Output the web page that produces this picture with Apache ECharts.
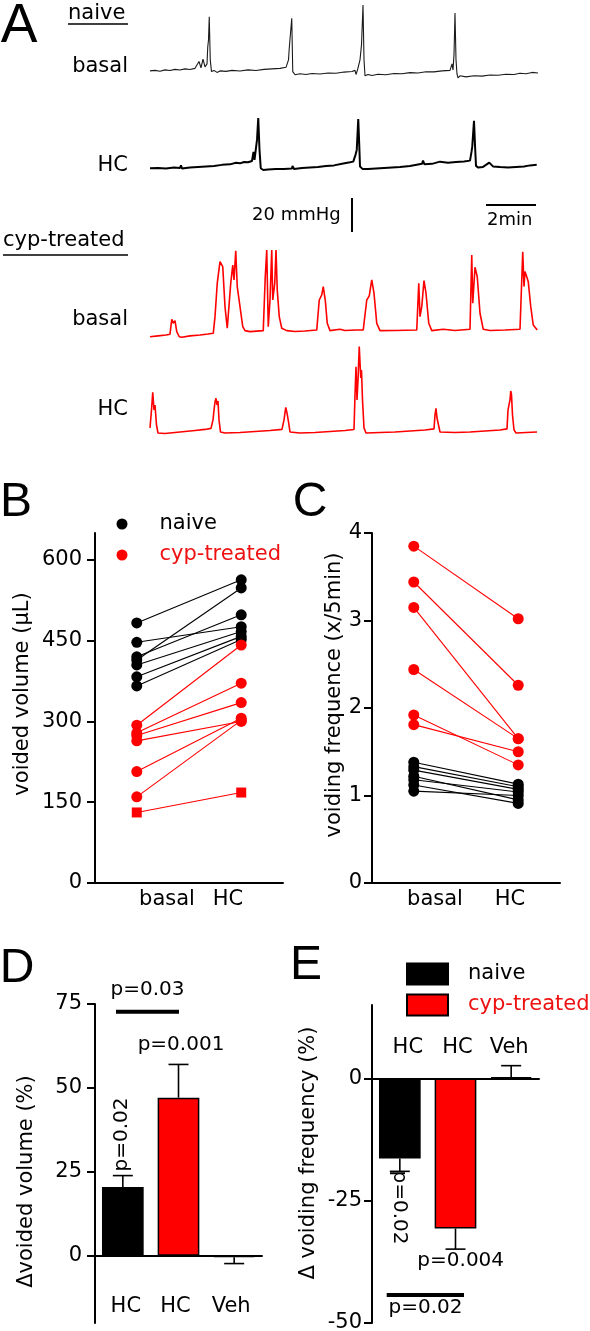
<!DOCTYPE html>
<html><head><meta charset="utf-8">
<script src="https://cdn.jsdelivr.net/npm/echarts@6/dist/echarts.min.js"></script>
<style>html,body{margin:0;padding:0;background:#fff;overflow:hidden}#c{width:590px;height:1331px}</style>
</head><body><div id="c"></div>
<script>
// ---------- Panel A: pressure traces, [time (min), pressure (mmHg)] ----------
const traceNaiveBasal = [[0,5.3],[0.2,5.6],[0.4,5.1],[0.6,5.9],[0.8,5.5],[1.0,6.2],[1.2,5.8],[1.4,6.5],[1.6,6.1],[1.8,6.8],[1.96,10.8],[2.04,7.1],[2.12,12.2],[2.2,7.6],[2.28,9.4],[2.31,19.4],[2.34,23.5],[2.37,37.2],[2.41,11.8],[2.46,4.9],[2.56,5.6],[2.68,4.4],[2.8,5.3],[3.04,5.0],[3.28,5.6],[3.6,5.2],[3.92,5.9],[4.24,5.5],[4.56,6.2],[4.88,6.5],[5.2,6.8],[5.44,7.4],[5.54,11.8],[5.57,18.6],[5.67,36.3],[5.71,4.9],[5.8,3.0],[6.0,3.6],[6.24,3.2],[6.48,3.8],[6.8,3.5],[7.12,4.1],[7.44,3.9],[7.76,4.6],[8.08,4.9],[8.2,5.6],[8.24,3.2],[8.3,5.9],[8.4,11.8],[8.46,20.6],[8.52,44.1],[8.56,11.8],[8.6,2.4],[8.72,3.2],[8.88,2.6],[9.12,3.3],[9.44,3.0],[9.76,3.8],[10.08,3.6],[10.4,4.3],[10.72,4.1],[11.04,4.8],[11.36,4.7],[11.68,5.3],[12.0,5.6],[12.08,9.4],[12.12,5.9],[12.16,14.7],[12.2,39.4],[12.24,11.8],[12.28,3.5],[12.32,1.2],[12.4,2.4],[12.64,1.8],[12.96,2.4],[13.28,2.2],[13.6,2.9],[13.92,2.7],[14.24,3.3],[14.56,3.2],[14.8,3.9],[15.04,3.6],[15.28,4.4],[15.52,4.1]];
const traceNaiveHC = [[0,3.9],[0.32,4.1],[0.64,3.8],[0.96,4.4],[1.2,4.1],[1.24,5.6],[1.28,3.8],[1.6,4.4],[1.92,4.7],[2.24,5.0],[2.56,5.3],[2.88,5.9],[3.2,6.2],[3.44,7.1],[3.6,6.8],[3.76,7.6],[3.92,7.4],[4.08,8.2],[4.14,13.5],[4.18,8.8],[4.24,15.9],[4.28,20.6],[4.33,33.4],[4.38,14.7],[4.43,3.9],[4.53,2.9],[4.72,3.2],[5.04,3.5],[5.36,3.5],[5.68,3.8],[5.7,5.3],[5.76,3.5],[6.08,4.1],[6.4,4.4],[6.72,4.7],[7.04,5.3],[7.36,5.6],[7.68,6.5],[8.0,7.4],[8.13,7.8],[8.22,11.8],[8.27,14.7],[8.33,32.8],[8.37,17.6],[8.4,4.9],[8.51,3.4],[8.72,3.5],[9.04,3.8],[9.36,4.1],[9.68,4.4],[10.0,4.7],[10.4,5.3],[10.88,6.5],[10.92,8.4],[10.98,6.2],[11.28,6.5],[11.6,7.8],[11.66,6.8],[11.92,7.1],[12.24,7.6],[12.56,7.9],[12.8,8.4],[12.86,13.5],[12.89,16.6],[12.96,31.8],[13.0,17.6],[13.04,5.3],[13.13,4.3],[13.32,4.7],[13.57,7.2],[13.72,5.0],[14.0,4.7],[14.32,4.4],[14.64,4.7],[14.96,5.0],[15.2,5.6],[15.47,5.9]];
const traceCypBasal = [[0,1.9],[0.32,2.4],[0.64,2.9],[0.8,3.4],[0.87,12.2],[0.93,9.8],[1.0,11.4],[1.07,4.9],[1.17,1.9],[1.27,1.6],[1.6,2.4],[2.0,2.9],[2.32,3.5],[2.53,3.9],[2.6,13.7],[2.69,33.4],[2.8,46.1],[2.91,43.1],[3.0,19.6],[3.09,6.9],[3.17,5.9],[3.23,33.4],[3.31,44.1],[3.36,35.3],[3.43,52.5],[3.49,31.4],[3.6,19.6],[3.71,7.8],[3.8,5.5],[4.0,4.9],[4.53,5.5],[4.61,37.2],[4.67,52.9],[4.73,7.8],[4.8,23.5],[4.87,52.9],[4.91,23.5],[4.99,33.4],[5.04,52.9],[5.09,29.4],[5.17,13.7],[5.27,6.9],[5.47,5.5],[5.8,5.0],[6.2,5.3],[6.67,5.9],[6.77,23.5],[6.87,26.5],[6.93,31.4],[7.01,23.5],[7.09,9.8],[7.2,5.5],[7.6,6.3],[7.8,5.6],[8.24,5.9],[8.53,5.9],[8.67,23.5],[8.77,25.9],[8.87,35.3],[8.96,27.5],[9.07,9.8],[9.2,5.5],[9.8,5.6],[10.67,5.9],[10.75,33.4],[10.8,13.7],[10.87,19.6],[10.96,34.9],[11.04,27.5],[11.15,9.8],[11.27,5.5],[11.73,6.3],[12.2,5.6],[12.8,6.3],[12.87,50.0],[12.91,21.6],[13.0,42.8],[13.09,37.2],[13.2,15.7],[13.33,6.3],[13.6,5.6],[14.2,5.9],[14.8,6.3],[14.91,51.9],[14.96,31.4],[15.0,40.2],[15.07,37.2],[15.13,34.3],[15.23,19.6],[15.33,8.8],[15.49,5.9]];
const traceCypHC = [[0,7.1],[0.06,17.6],[0.11,28.1],[0.16,17.6],[0.2,20.6],[0.26,8.8],[0.32,4.1],[0.6,3.8],[1.0,4.4],[1.4,5.0],[1.8,5.6],[2.2,6.2],[2.44,6.8],[2.52,11.8],[2.56,17.6],[2.6,22.4],[2.64,24.5],[2.68,20.6],[2.72,22.9],[2.76,11.8],[2.82,4.7],[3.0,4.1],[3.6,4.4],[4.2,5.0],[4.8,5.6],[5.28,6.2],[5.36,11.8],[5.43,19.2],[5.48,15.9],[5.54,10.6],[5.6,4.7],[6.0,4.1],[6.6,4.4],[7.2,5.0],[7.8,5.6],[8.16,6.2],[8.2,26.5],[8.24,43.1],[8.28,23.5],[8.32,35.3],[8.37,54.9],[8.43,36.5],[8.46,41.2],[8.5,23.5],[8.56,7.1],[8.64,4.1],[9.2,4.4],[9.8,4.7],[10.4,5.3],[11.0,5.9],[11.36,6.5],[11.4,14.7],[11.44,18.6],[11.48,12.9],[11.52,11.8],[11.6,4.7],[12.2,4.4],[12.8,4.7],[13.4,5.3],[14.0,5.9],[14.28,6.5],[14.32,17.6],[14.36,20.6],[14.4,23.5],[14.43,28.8],[14.46,26.5],[14.5,14.7],[14.56,5.9],[14.64,4.1],[15.04,4.4],[15.48,4.7]];
// scale bars (same units as traces)
const scaleBarPressure = [[8.08, 5.3], [8.08, 25.3]];   // 20 mmHg
const scaleBarTime = [[13.44, 21.2], [15.44, 21.2]];    // 2 min

// ---------- Panel B: voided volume (µL) ----------
const B_categories = ['basal', 'HC'];
const B_ticks = [0, 150, 300, 450, 600];
const B_naive_basal = [483, 447, 420, 414, 405, 383, 366];
const B_naive_hc    = [563, 476, 498, 548, 467, 458, 452];
const B_cyp_basal   = [293, 279, 274, 264, 207, 160];
const B_cyp_hc      = [442, 371, 335, 300, 306, 302];
const B_cypSq_basal = [131];
const B_cypSq_hc    = [168];

// ---------- Panel C: voiding frequency (x/5min) ----------
const C_categories = ['basal', 'HC'];
const C_ticks = [0, 1, 2, 3, 4];
const C_naive_basal = [1.38, 1.33, 1.29, 1.22, 1.18, 1.12, 1.05];
const C_naive_hc    = [1.13, 1.10, 1.07, 0.95, 1.04, 0.91, 1.00];
const C_cyp_basal   = [3.85, 3.44, 3.15, 2.44, 1.92, 1.81];
const C_cyp_hc      = [3.02, 2.26, 1.65, 1.65, 1.35, 1.50];

// ---------- Panel D: Δ voided volume (%) ----------
const D_categories = ['HC', 'HC', 'Veh'];
const D_ticks = [0, 25, 50, 75];
const D_naive = [20.5, '-', '-'];
const D_cyp = ['-', 47.1, -0.4];
const D_err = [3.4, 9.9, 1.9];

// ---------- Panel E: Δ voiding frequency (%) ----------
const E_categories = ['HC', 'HC', 'Veh'];
const E_ticks = [-50, -25, 0];
const E_naive = [-16.4, '-', '-'];
const E_cyp = ['-', -30.7, 0.3];
const E_err = [2.6, 4.2, 2.3];

// ---------------------------------------------------------------
const FONT = 'DejaVu Sans';
const RED = '#ff0000';
const RED_TXT = '#ee1111';
const BLACK = '#000';
const txt = (o) => Object.assign({fontFamily: FONT, color: BLACK, fontSize: 21}, o);

const chart = echarts.init(document.getElementById('c'));

const G = (left, top, width, height) => ({left, top, width, height, containLabel:false, outerBoundsMode:'none'});
const grids = [
  G(150, 0, 390, 85),     // 0 naive basal
  G(150, 95, 390, 85),    // 1 naive HC
  G(150, 190, 390, 51),   // 2 scale bars
  G(150, 240, 390, 102),  // 3 cyp basal
  G(150, 340, 390, 102),  // 4 cyp HC
  G(95, 533, 188, 350),   // 5 B
  G(372, 533, 188, 350),  // 6 C
  G(95, 1004, 167, 319),  // 7 D
  G(372, 1005, 167, 318)  // 8 E
];
const traceY = [[-3,47],[-3,47],[0,30],[-1.2,58.8],[-1.2,58.8]];

const axLine = {show:true, onZero:false, lineStyle:{color:BLACK, width:2}};
const hidden = {show:false};

const xAxes = [];
const yAxes = [];
for (let i = 0; i < 5; i++) {
  xAxes.push({gridIndex:i, type:'value', min:0, max:15.6, show:false});
  yAxes.push({gridIndex:i, type:'value', min:traceY[i][0], max:traceY[i][1], show:false});
}
function shiftRich(shifts){
  const rich = {};
  shifts.forEach((s, i) => {
    rich['s'+i] = {fontFamily:FONT, fontSize:21, color:BLACK,
      padding: s >= 0 ? [0,0,0,2*s] : [0,-2*s,0,0]};
  });
  return rich;
}
const catLabel = (margin, shifts, inside) => txt({margin, inside:!!inside, interval:0, hideOverlap:false,
  formatter:(v,i)=>'{s'+i+'|'+v+'}', rich:shiftRich(shifts)});
// B x axes: value axis for point placement, category axis for labels
xAxes.push({gridIndex:5, type:'value', min:-0.4, max:1.4, axisLine:{show:true, onZero:false, lineStyle:{color:BLACK,width:2}}, axisTick:hidden, axisLabel:hidden, splitLine:hidden}); // 5
xAxes.push({gridIndex:5, type:'category', data:B_categories, position:'bottom', axisLine:hidden, axisTick:hidden, splitLine:hidden,
  axisLabel:catLabel(6, [25,-8])}); // 6
xAxes.push({gridIndex:6, type:'value', min:-0.4, max:1.4, axisLine:{show:true, onZero:false, lineStyle:{color:BLACK,width:2}}, axisTick:hidden, axisLabel:hidden, splitLine:hidden}); // 7
xAxes.push({gridIndex:6, type:'category', data:C_categories, position:'bottom', axisLine:hidden, axisTick:hidden, splitLine:hidden,
  axisLabel:catLabel(6, [16,-3])}); // 8
// D / E: axis line sits on zero, labels stay at the grid edge (placed inside)
xAxes.push({gridIndex:7, type:'category', data:D_categories, position:'bottom', axisLine:{show:true, onZero:true, lineStyle:{color:BLACK,width:2}}, axisTick:hidden, splitLine:hidden,
  axisLabel:catLabel(6, [3,-3,-3], true)}); // 9
xAxes.push({gridIndex:8, type:'category', data:E_categories, position:'top', axisLine:{show:true, onZero:true, lineStyle:{color:BLACK,width:2}}, axisTick:hidden, splitLine:hidden,
  axisLabel:catLabel(32, [8,2,-2], true)}); // 10

function yAx(grid, min, max, ticks, margin, name, nameGap, pad){
  return {gridIndex:grid, type:'value', min, max, axisLine:axLine,
    axisTick:{show:true, length:8, lineStyle:{color:BLACK,width:2}, customValues:ticks},
    axisLabel:txt({margin, customValues:ticks}), splitLine:hidden,
    name, nameLocation:'middle', nameGap, nameTextStyle:txt({padding:pad})};
}
yAxes.push(yAx(5, 0, 650, B_ticks, 13, 'voided volume (μL)', 62, [0,0,0,28]));        // 5
yAxes.push(yAx(6, 0, 4, C_ticks, 10, 'voiding frequence (x/5min)', 25, [0,0,0,26]));   // 6
yAxes.push(yAx(7, -20, 75, D_ticks, 13, 'Δvoided volume (%)', 58, [0,36,0,0]));       // 7
yAxes.push(yAx(8, -50, 15, E_ticks, 10, 'Δ voiding frequency (%)', 53, [0,0,0,22]));  // 8

const series = [];
const traceDefs = [
  [traceNaiveBasal, '#1a1a1a', 1.1],
  [traceNaiveHC, BLACK, 2],
  null,
  [traceCypBasal, RED, 1.6],
  [traceCypHC, RED, 1.6]
];
traceDefs.forEach((d, i) => {
  if (!d) return;
  series.push({type:'line', name:'trace'+i, xAxisIndex:i, yAxisIndex:i, data:d[0], showSymbol:false,
    lineStyle:{color:d[1], width:d[2]}, silent:true});
});
series.push({type:'line', name:'scale-p', xAxisIndex:2, yAxisIndex:2, data:scaleBarPressure, showSymbol:false, lineStyle:{color:BLACK,width:2}});
series.push({type:'line', name:'scale-t', xAxisIndex:2, yAxisIndex:2, data:scaleBarTime, showSymbol:false, lineStyle:{color:BLACK,width:2}});

function pairs(xi, yi, basal, hc, color, prefix){
  basal.forEach((b, k) => {
    series.push({type:'line', name:prefix+k, xAxisIndex:xi, yAxisIndex:yi, data:[[0,b],[1,hc[k]]],
      showSymbol:false, lineStyle:{color, width:1.1}, z:2});
  });
}
function pts(basal, hc){
  return basal.map(v=>[0,v]).concat(hc.map(v=>[1,v]));
}
const solid = (c) => ({color:c, opacity:1});
// B
pairs(5, 5, B_naive_basal, B_naive_hc, BLACK, 'bn');
pairs(5, 5, B_cyp_basal, B_cyp_hc, RED, 'bc');
pairs(5, 5, B_cypSq_basal, B_cypSq_hc, RED, 'bs');
series.push({type:'scatter', name:'naive', xAxisIndex:5, yAxisIndex:5, data:pts(B_naive_basal,B_naive_hc), symbol:'circle', symbolSize:11, itemStyle:solid(BLACK), z:3});
series.push({type:'scatter', name:'cyp-treated', xAxisIndex:5, yAxisIndex:5, data:pts(B_cyp_basal,B_cyp_hc), symbol:'circle', symbolSize:11, itemStyle:solid(RED), z:4});
series.push({type:'scatter', name:'cyp-treated', xAxisIndex:5, yAxisIndex:5, data:pts(B_cypSq_basal,B_cypSq_hc), symbol:'rect', symbolSize:10, itemStyle:solid(RED), z:4});
// C
pairs(7, 6, C_cyp_basal, C_cyp_hc, RED, 'cc');
pairs(7, 6, C_naive_basal, C_naive_hc, BLACK, 'cn');
series.push({type:'scatter', name:'cyp-treated', xAxisIndex:7, yAxisIndex:6, data:pts(C_cyp_basal,C_cyp_hc), symbol:'circle', symbolSize:11, itemStyle:solid(RED), z:3});
series.push({type:'scatter', name:'naive', xAxisIndex:7, yAxisIndex:6, data:pts(C_naive_basal,C_naive_hc), symbol:'circle', symbolSize:11, itemStyle:solid(BLACK), z:4});

// D & E bars
function errRender(params, api){
  const x = api.value(0), m = api.value(1), e = api.value(2);
  const s = m >= 0 ? 1 : -1;
  const p0 = api.coord([x, m]);
  const p1 = api.coord([x, m + s * e]);
  const st = {stroke:BLACK, lineWidth:1.6};
  return {type:'group', children:[
    {type:'line', shape:{x1:p0[0], y1:p0[1], x2:p1[0], y2:p1[1]}, style:st},
    {type:'line', shape:{x1:p1[0]-10, y1:p1[1], x2:p1[0]+10, y2:p1[1]}, style:st}
  ]};
}
function barsFor(xi, yi, nv, cv, err){
  const bs = {borderColor:BLACK, borderWidth:1.5, opacity:1};
  series.push({type:'bar', name:'naive', xAxisIndex:xi, yAxisIndex:yi, data:nv, barWidth:41.7, barGap:'-100%', itemStyle:Object.assign({color:BLACK}, bs), z:2});
  series.push({type:'bar', name:'cyp-treated', xAxisIndex:xi, yAxisIndex:yi, data:cv, barWidth:41.7, barGap:'-100%', itemStyle:Object.assign({color:RED}, bs), z:2});
  const ed = err.map((e,i)=>[i, nv[i] !== '-' ? nv[i] : cv[i], e]);
  series.push({type:'custom', name:'err', xAxisIndex:xi, yAxisIndex:yi, data:ed, renderItem:errRender, z:3});
}
barsFor(9, 7, D_naive, D_cyp, D_err);
barsFor(10, 8, E_naive, E_cyp, E_err);

// ---------- text / annotations ----------
const T = (text, x, y, o) => ({type:'text', x, y, silent:true, z:100,
  style:Object.assign({text, fontFamily:FONT, fontSize:21, fill:BLACK, align:'left', verticalAlign:'middle'}, o || {})});
const L = (x1, y1, x2, y2, w) => ({type:'line', silent:true, z:100, shape:{x1,y1,x2,y2}, style:{stroke:BLACK, lineWidth:w}});
const letter = (t, x, y, size) => T(t, x, y, {fontFamily:'Liberation Sans', fontSize:size, align:'center'});
const P = (t, x, y, rot) => Object.assign(T(t, x, y, {fontSize:20, align:'center'}), rot ? {rotation:rot} : {});

const graphics = [
  letter('A', 19, 27, 55), letter('B', 16, 503, 48), letter('C', 310, 503, 48),
  letter('D', 17, 969, 48), letter('E', 306, 966, 48),
  T('naive', 68, 13.5), L(68, 24, 128, 24, 1.5),
  T('basal', 128, 66.7, {align:'right'}),
  T('HC', 128, 165.6, {align:'right'}),
  T('cyp-treated', 3, 241), L(3, 255, 128, 255, 1.5),
  T('basal', 128, 319.3, {align:'right'}),
  T('HC', 128, 409.3, {align:'right'}),
  T('20 mmHg', 252, 215.4, {fontSize:18}),
  T('2min', 487, 220.4, {fontSize:18}),
  // D annotations
  P('p=0.03', 147.5, 989.7), L(116, 1011.7, 179, 1011.7, 4),
  P('p=0.001', 181, 1044.7),
  P('p=0.02', 122, 1134.5, Math.PI/2),
  // E annotations
  P('p=0.02', 399, 1207.5, -Math.PI/2),
  P('p=0.004', 460.7, 1261),
  L(386.7, 1295, 464, 1295, 4),
  P('p=0.02', 425.5, 1308)
];

const option = {
  animation:false,
  backgroundColor:'#fff',
  textStyle:{fontFamily:FONT},
  grid:grids, xAxis:xAxes, yAxis:yAxes, series,
  legend:[
    {left:116.5, top:513.5, orient:'vertical', padding:0, itemGap:10, itemWidth:11, itemHeight:11, selectedMode:false,
      textStyle:txt({lineHeight:21, padding:[0,0,0,27]}),
      data:[{name:'naive', icon:'circle', itemStyle:{color:BLACK, opacity:1}},
            {name:'cyp-treated', icon:'circle', itemStyle:{color:RED, opacity:1}, textStyle:{color:RED_TXT}}]},
    {left:406, top:962.5, orient:'vertical', padding:0, itemGap:8, itemWidth:41, itemHeight:21, selectedMode:false,
      textStyle:txt({lineHeight:21, padding:[0,0,0,15]}),
      data:[{name:'naive', icon:'rect', itemStyle:{color:BLACK, opacity:1, borderColor:BLACK, borderWidth:2}},
            {name:'cyp-treated', icon:'rect', itemStyle:{color:RED, opacity:1, borderColor:BLACK, borderWidth:2}, textStyle:{color:RED_TXT}}]}
  ],
  graphic:{elements:graphics}
};
chart.setOption(option);
</script></body></html>
